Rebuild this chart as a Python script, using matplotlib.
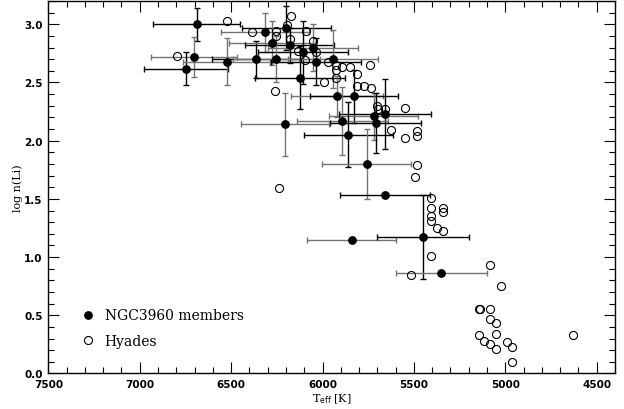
import matplotlib
matplotlib.use("Agg")
import matplotlib.pyplot as plt
from matplotlib.ticker import MultipleLocator

# NGC3960 members: Teff, log n(Li) and their errors
ngc_teff = [6689, 6702, 6748, 6525, 6365, 6316, 6198, 6274, 6180, 6051,
            6107, 6252, 6037, 5943, 6124, 5921, 5826, 5720, 5659, 5891,
            5709, 6207, 5859, 5759, 5660, 5840, 5450, 5350]
ngc_li = [3.00, 2.72, 2.62, 2.68, 2.70, 2.93, 2.97, 2.84, 2.82, 2.80,
          2.76, 2.70, 2.68, 2.70, 2.54, 2.38, 2.38, 2.21, 2.23, 2.17,
          2.15, 2.14, 2.05, 1.80, 1.53, 1.15, 1.17, 0.86]
ngc_teff_err = [237, 234, 230, 240, 240, 240, 245, 240, 245, 245,
                245, 240, 245, 245, 245, 250, 240, 245, 250, 250,
                250, 240, 245, 245, 246, 243, 250, 250]
ngc_li_err = [0.14, 0.17, 0.14, 0.20, 0.16, 0.17, 0.19, 0.19, 0.15, 0.20,
              0.27, 0.20, 0.20, 0.25, 0.27, 0.18, 0.23, 0.20, 0.30, 0.29,
              0.26, 0.27, 0.28, 0.30, 0.0, 0.0, 0.36, 0.0]

# Hyades comparison sample
hy_teff = [6520, 6175, 6387, 6256, 6197, 6256, 6179, 6092, 6050, 6134,
           6033, 6795, 6094, 5970, 5928, 5891, 5851, 5928, 5928, 5992,
           6258, 6238, 5738, 5812, 5812, 5773, 5737, 5700, 5659, 5698,
           5551, 5624, 5551, 5482, 5482, 5482, 5496, 5409, 5409, 5342,
           5342, 5409, 5409, 5374, 5342, 5409, 5514, 5081, 5023, 5145,
           5140, 5081, 5081, 5050, 5050, 5145, 5114, 5081, 5050, 4992,
           4962, 4962, 4630]
hy_li = [3.03, 3.07, 2.93, 2.94, 2.99, 2.90, 2.87, 2.94, 2.86, 2.77,
         2.76, 2.73, 2.69, 2.68, 2.65, 2.63, 2.63, 2.61, 2.54, 2.50,
         2.43, 1.59, 2.65, 2.57, 2.47, 2.47, 2.45, 2.30, 2.27, 2.27,
         2.28, 2.09, 2.02, 2.08, 2.04, 1.79, 1.69, 1.51, 1.42, 1.42,
         1.39, 1.35, 1.31, 1.25, 1.22, 1.01, 0.85, 0.93, 0.75, 0.55,
         0.55, 0.55, 0.47, 0.43, 0.34, 0.33, 0.28, 0.25, 0.21, 0.27,
         0.23, 0.10, 0.33]

fig = plt.figure(figsize=(6.24, 4.10), dpi=100)
ax = fig.add_axes([0.0775, 0.0866, 0.908, 0.9085])

# error bars, alternating dark / grey like the original print
for i in range(len(ngc_teff)):
    col = 'k' if i % 2 == 0 else '0.45'
    ax.errorbar(ngc_teff[i], ngc_li[i], xerr=ngc_teff_err[i],
                yerr=ngc_li_err[i] if ngc_li_err[i] > 0 else None,
                fmt='none', ecolor=col, elinewidth=1, capsize=2.5, capthick=1)

ax.plot(ngc_teff, ngc_li, 'o', color='k', markersize=5.3, linestyle='none',
        label='NGC3960 members', zorder=3)
ax.plot(hy_teff, hy_li, 'o', markerfacecolor='none', markeredgecolor='k',
        markeredgewidth=0.8, markersize=5.8, linestyle='none', label='Hyades', zorder=3)

ax.set_xlim(7500, 4400)
ax.set_ylim(0.0, 3.2)
ax.xaxis.set_major_locator(MultipleLocator(500))
ax.xaxis.set_minor_locator(MultipleLocator(100))
ax.yaxis.set_major_locator(MultipleLocator(0.5))
ax.yaxis.set_minor_locator(MultipleLocator(0.1))
ax.yaxis.set_major_formatter(matplotlib.ticker.FormatStrFormatter('%.1f'))
ax.tick_params(which='both', direction='in', top=True, right=True, width=0.8)
ax.tick_params(which='major', length=8, labelsize=7.5, pad=4)
ax.tick_params(which='minor', length=4)
for lab in ax.get_xticklabels() + ax.get_yticklabels():
    lab.set_fontweight('bold')
for sp in ax.spines.values():
    sp.set_linewidth(1)

ax.set_xlabel(r'T$_{\rm eff}$ [K]', family='DejaVu Serif', fontsize=8, labelpad=2)
ax.set_ylabel('log n(Li)', family='DejaVu Serif', fontsize=8, labelpad=1)

leg = ax.legend(loc='lower left', frameon=False, handlelength=0.8, handletextpad=0.8,
                prop={'family': 'DejaVu Serif', 'size': 10}, borderaxespad=1.2,
                labelspacing=0.85, bbox_to_anchor=(0.021, 0.008))

fig.savefig('out.png', dpi=100)
